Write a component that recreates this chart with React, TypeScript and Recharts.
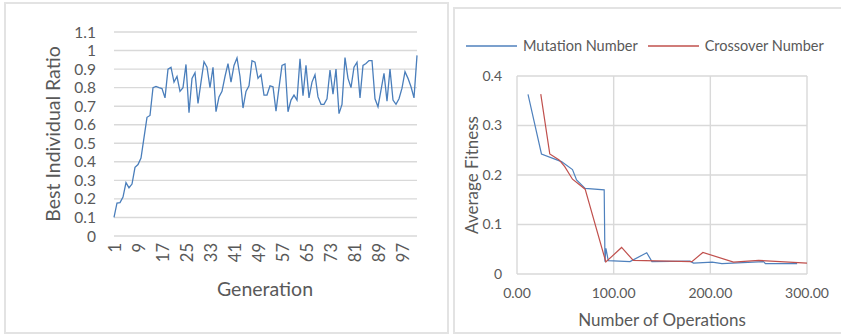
import { LineChart, Line, XAxis, YAxis, CartesianGrid, Legend, Label } from "recharts"

const FONT = "Lato, 'Open Sans', sans-serif"
const TEXT = "#595959"
const GRID = "#d9d9d9"

// left chart: best individual ratio per generation
const generations = [
  1, 2, 3, 4, 5, 6, 7, 8, 9, 10, 11, 12, 13, 14, 15, 16, 17, 18, 19, 20,
  21, 22, 23, 24, 25, 26, 27, 28, 29, 30, 31, 32, 33, 34, 35, 36, 37, 38, 39, 40,
  41, 42, 43, 44, 45, 46, 47, 48, 49, 50, 51, 52, 53, 54, 55, 56, 57, 58, 59, 60,
  61, 62, 63, 64, 65, 66, 67, 68, 69, 70, 71, 72, 73, 74, 75, 76, 77, 78, 79, 80,
  81, 82, 83, 84, 85, 86, 87, 88, 89, 90, 91, 92, 93, 94, 95, 96, 97, 98, 99, 100,
  101, 102,
]
const bestRatio = [
  0.1, 0.178, 0.18, 0.21, 0.288, 0.26, 0.28, 0.37, 0.385, 0.42,
  0.53, 0.64, 0.65, 0.8, 0.807, 0.8, 0.795, 0.745, 0.9, 0.91,
  0.83, 0.86, 0.78, 0.8, 0.925, 0.665, 0.85, 0.88, 0.715, 0.83,
  0.94, 0.91, 0.8, 0.91, 0.67, 0.75, 0.78, 0.86, 0.93, 0.83,
  0.92, 0.96, 0.86, 0.69, 0.78, 0.81, 0.945, 0.937, 0.85, 0.87,
  0.76, 0.76, 0.81, 0.805, 0.673, 0.8, 0.92, 0.928, 0.67, 0.733,
  0.76, 0.733, 0.955, 0.757, 0.92, 0.745, 0.83, 0.87, 0.75, 0.71,
  0.71, 0.74, 0.895, 0.765, 0.9, 0.66, 0.71, 0.962, 0.85, 0.8,
  0.91, 0.937, 0.745, 0.92, 0.93, 0.946, 0.946, 0.74, 0.697, 0.787,
  0.877, 0.727, 0.9, 0.733, 0.71, 0.74, 0.797, 0.886, 0.85, 0.805,
  0.745, 0.974,
]
const ratioTicks = [0, 0.1, 0.2, 0.3, 0.4, 0.5, 0.6, 0.7, 0.8, 0.9, 1, 1.1]

// right chart: average fitness vs number of operations
const mutationOps = [11.4, 25.3, 46, 57.4, 61.6, 70.5, 90.2, 91, 92, 94.4, 116.9, 134.2, 139.6, 179, 182.6, 202, 212, 255, 257, 289.8]
const mutationFitness = [0.363, 0.2425, 0.227, 0.211, 0.19, 0.173, 0.17, 0.025, 0.052, 0.027, 0.025, 0.043, 0.025, 0.026, 0.022, 0.024, 0.021, 0.025, 0.021, 0.021]
const crossoverOps = [24.6, 33.9, 43.6, 49.4, 57.4, 70.5, 91.9, 108.2, 120.3, 180.9, 192.3, 224, 250, 300]
const crossoverFitness = [0.3635, 0.2425, 0.2304, 0.217, 0.1915, 0.1714, 0.0242, 0.0536, 0.0274, 0.025, 0.0436, 0.024, 0.0275, 0.022]
const fitnessTicks = [0, 0.1, 0.2, 0.3, 0.4]
const operationTicks = [0, 100, 200, 300]
const seriesOrder = ["Mutation Number", "Crossover Number"]

const ratioData = generations.map((g, i) => ({ gen: g, ratio: bestRatio[i] }))
const mutationData = mutationOps.map((x, i) => ({ ops: x, fitness: mutationFitness[i] }))
const crossoverData = crossoverOps.map((x, i) => ({ ops: x, fitness: crossoverFitness[i] }))

function GenTick({ x, y, payload }: any) {
  return (
    <text
      x={x + 1}
      y={y}
      transform={`rotate(-90, ${x + 1}, ${y})`}
      textAnchor="end"
      dominantBaseline="central"
      fill={TEXT}
      fontSize={16.5}
      fontFamily={FONT}
    >
      {payload.value}
    </text>
  )
}

const title = (text: string, x: number, y: number, size: number, rotate = false) => () => (
  <text
    x={x}
    y={y}
    transform={rotate ? `rotate(-90, ${x}, ${y})` : undefined}
    textAnchor="middle"
    dominantBaseline="central"
    fill={TEXT}
    fontSize={size}
    fontFamily={FONT}
  >
    {text}
  </text>
)

const renderLegend = ({ payload }: any) => {
  const items = [...(payload || [])].sort((a: any, b: any) => seriesOrder.indexOf(a.value) - seriesOrder.indexOf(b.value))
  return (
    <div style={{ display: "flex", alignItems: "center", fontFamily: FONT, fontSize: 14.5, color: TEXT, whiteSpace: "nowrap" }}>
      {items.map((p: any) => (
        <div key={p.value} style={{ display: "flex", alignItems: "center", marginRight: 10 }}>
          <svg width={51} height={4}>
            <line x1={0} y1={2} x2={51} y2={2} stroke={p.color} strokeWidth={1.3} />
          </svg>
          <span style={{ marginLeft: 6 }}>{p.value}</span>
        </div>
      ))}
    </div>
  )
}

export default function App() {
  return (
    <div style={{ position: "fixed", left: 0, top: 0, width: 841, height: 335, overflow: "hidden", background: "#fff" }}>
      <div style={{ position: "absolute", left: 4, top: 2, width: 445, height: 332, border: `2px solid #e3e3e3`, boxSizing: "border-box" }} />
      <div style={{ position: "absolute", left: 453, top: 7, width: 420, height: 327, border: `2px solid #e3e3e3`, boxSizing: "border-box" }} />

      <div style={{ position: "absolute", left: 0, top: 0 }}>
        <LineChart width={841} height={335} data={ratioData} margin={{ top: 32, right: 424, bottom: 39, left: 0 }}>
          <CartesianGrid vertical={false} stroke={GRID} strokeWidth={1.4} />
          <XAxis
            dataKey="gen"
            type="category"
            interval={7}
            height={60}
            axisLine={false}
            tickLine={false}
            tickSize={0}
            tickMargin={7}
            tick={<GenTick />}
          >
            <Label content={title("Generation", 265, 288, 19.5)} />
          </XAxis>
          <YAxis
            type="number"
            domain={[0, 1.1]}
            ticks={ratioTicks}
            interval={0}
            width={114}
            axisLine={false}
            tickLine={false}
            tickSize={0}
            tickMargin={18}
            tick={{ fill: TEXT, fontSize: 15.5, fontFamily: FONT }}
          >
            <Label content={title("Best Individual Ratio", 52, 134, 19.5, true)} />
          </YAxis>
          <Line type="linear" dataKey="ratio" stroke="#4A7EBB" strokeWidth={1.3} dot={false} isAnimationActive={false} />
        </LineChart>
      </div>

      <div style={{ position: "absolute", left: 0, top: 0 }}>
        <LineChart width={841} height={335} margin={{ top: 76, right: 34, bottom: 21, left: 0 }}>
          <CartesianGrid stroke={GRID} strokeWidth={1.4} />
          <XAxis
            dataKey="ops"
            type="number"
            domain={[0, 300]}
            ticks={operationTicks}
            interval={0}
            tickFormatter={(v: number) => v.toFixed(2)}
            height={40}
            axisLine={false}
            tickLine={false}
            tickSize={0}
            tickMargin={14}
            tick={{ fill: TEXT, fontSize: 14, fontFamily: FONT }}
          >
            <Label content={title("Number of Operations", 662, 319, 17)} />
          </XAxis>
          <YAxis
            type="number"
            domain={[0, 0.4]}
            ticks={fitnessTicks}
            interval={0}
            width={517}
            axisLine={false}
            tickLine={false}
            tickSize={0}
            tickMargin={15}
            tick={{ fill: TEXT, fontSize: 14, fontFamily: FONT }}
          >
            <Label content={title("Average Fitness", 471, 175, 17, true)} />
          </YAxis>
          <Legend
            verticalAlign="middle"
            align="center"
            layout="horizontal"
            content={renderLegend}
            wrapperStyle={{ left: 466, top: 37, width: 380, height: 20 }}
          />
          <Line data={mutationData} type="linear" dataKey="fitness" name="Mutation Number" stroke="#4F81BD" strokeWidth={1.2} dot={false} isAnimationActive={false} />
          <Line data={crossoverData} type="linear" dataKey="fitness" name="Crossover Number" stroke="#C0504D" strokeWidth={1.2} dot={false} isAnimationActive={false} />
        </LineChart>
      </div>
    </div>
  )
}
